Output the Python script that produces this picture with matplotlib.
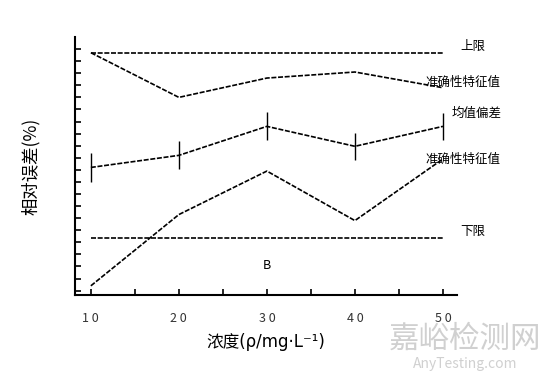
import numpy as np
import matplotlib.pyplot as plt

plt.rcParams['font.family'] = ['Noto Sans CJK SC', 'DejaVu Sans']

conc = [10, 20, 30, 40, 50]
upper_limit = [19.7, 19.7, 19.7, 19.7, 19.7]
lower_limit = [4.4, 4.4, 4.4, 4.4, 4.4]
upper_char = [19.7, 16.0, 17.6, 18.1, 16.8]
mean_bias = [10.2, 11.2, 13.6, 11.95, 13.6]
bias_err = [1.2, 1.15, 1.15, 1.1, 1.1]
lower_char = [0.4, 6.3, 9.9, 5.8, 10.9]
xtick_labels = ['1 0', '', '2 0', '', '3 0', '', '4 0', '', '5 0']

fig = plt.figure(figsize=(5.54, 3.77), dpi=100)
ax = fig.add_axes([0.1354, 0.2175, 0.6895, 0.6844])

ls = dict(color='black', linestyle=(0, (3, 1)), linewidth=1.2)
ax.plot(conc, upper_limit, **ls)
ax.plot(conc, lower_limit, **ls)
ax.plot(conc, upper_char, **ls)
ax.plot(conc, lower_char, **ls)
ax.errorbar(conc, mean_bias, yerr=bias_err, capsize=0, elinewidth=1.0, **ls)

ax.set_xlim(8.2, 51.6)
ax.set_ylim(-0.36, 21.0)
ax.set_xticks(np.arange(10, 51, 5))
ax.set_xticklabels(xtick_labels, fontsize=9, color='#333333')
ax.set_yticks(np.arange(0, 21, 1))
ax.set_yticklabels([])
ax.tick_params(axis='x', direction='in', length=4, width=1.2, pad=12)
ax.tick_params(axis='y', direction='in', length=4, width=1.2)
for side in ['top', 'right']:
    ax.spines[side].set_visible(False)
for side in ['left', 'bottom']:
    ax.spines[side].set_linewidth(1.5)

ax.set_xlabel('浓度(ρ/mg·L⁻¹)', fontsize=12, labelpad=6,
              family=['DejaVu Sans', 'Noto Sans CJK SC'])
ax.set_ylabel('相对误差(%)', fontsize=12.5, labelpad=22, fontweight='medium')

lab = dict(fontsize=9, ha='left', va='center', fontweight='medium',
           transform=ax.transData, clip_on=False)
ax.text(52.0, 20.2, '上限', **lab)
ax.text(48.0, 17.2, '准确性特征值', **lab)
ax.text(51.0, 14.7, '均值偏差', **lab)
ax.text(48.0, 10.9, '准确性特征值', **lab)
ax.text(52.0, 4.9, '下限', **lab)
ax.text(30, 2.1, 'B', fontsize=9, ha='center', va='center')

fig.text(0.84, 0.10, '嘉峪检测网', fontsize=22, color='#d0d0d0', ha='center', va='center')
fig.text(0.84, 0.035, 'AnyTesting.com', fontsize=10, color='#d0d0d0', style='italic', ha='center', va='center')

fig.savefig('out.png', dpi=100)
